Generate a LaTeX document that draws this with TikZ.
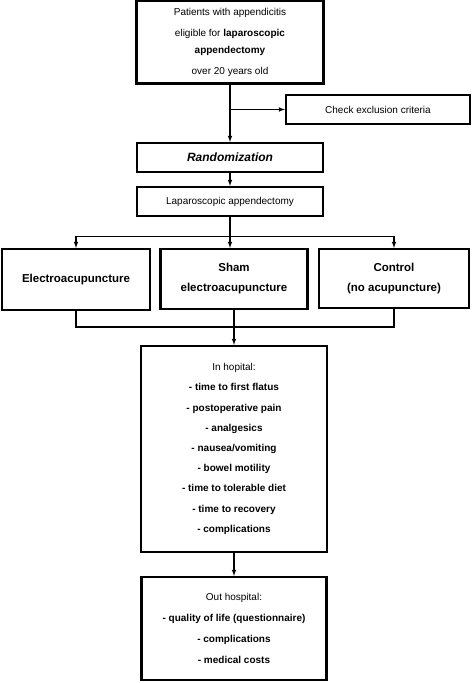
\documentclass[tikz,border=0pt]{standalone}
\usepackage{fontspec}
\setmainfont{Liberation Sans}
\begin{document}
\begin{tikzpicture}[>=latex, x=1pt, y=1pt,
		box/.style={draw, line width=2.2pt, align=center, inner sep=0pt},
		flow/.style={->, line width=1.1pt}]
	\useasboundingbox (0,0) rectangle (473,683);
	%%% Boxes
	\node[box, minimum width=187, minimum height=83, font=\fontsize{10}{17}\selectfont] (pat) at (230,641)
		{Patients with appendicitis\\[4pt]
		 eligible for \textbf{laparoscopic}\\
		 \textbf{appendectomy}\\[4pt]
		 over 20 years old};
	\node[box, minimum width=184, minimum height=29, font=\fontsize{10}{12}\selectfont] (check) at (378,573.5) {Check exclusion criteria};
	\node[box, minimum width=186, minimum height=29, font=\fontsize{12}{14}\selectfont\bfseries\itshape] (rand) at (230,525.5) {Randomization};
	\node[box, minimum width=186, minimum height=29, font=\fontsize{10}{12}\selectfont] (lap) at (230,481.5) {Laparoscopic appendectomy};
	%%% Gruppi
	\node[box, minimum width=148, minimum height=61, font=\fontsize{11.5}{20}\selectfont\bfseries] (ea) at (76,403.5) {Electroacupuncture};
	\node[box, minimum width=147, minimum height=60, font=\fontsize{11.5}{20}\selectfont\bfseries] (sham) at (234,404) {Sham\\electroacupuncture};
	\node[box, minimum width=150, minimum height=59, font=\fontsize{11.5}{20}\selectfont\bfseries] (ctrl) at (394,404.5) {Control\\(no acupuncture)};
	%%% Esiti
	\node[box, minimum width=186, minimum height=206, font=\fontsize{10}{20.2}\selectfont] (inh) at (234,234)
		{In hopital:\\
		 \textbf{- time to first flatus}\\
		 \textbf{- postoperative pain}\\
		 \textbf{- analgesics}\\
		 \textbf{- nausea/vomiting}\\
		 \textbf{- bowel motility}\\
		 \textbf{- time to tolerable diet}\\
		 \textbf{- time to recovery}\\
		 \textbf{- complications}};
	\node[box, minimum width=185, minimum height=103, font=\fontsize{10}{21}\selectfont] (outh) at (234,54.5)
		{Out hospital:\\
		 \textbf{- quality of life (questionnaire)}\\
		 \textbf{- complications}\\
		 \textbf{- medical costs}};
	%%% Frecce
	\draw[flow] (pat.south) -- (rand.north);
	\draw[flow] (pat.south |- check.west) -- (check.west);
	\draw[flow] (rand.south) -- (lap.north);
	\draw[line width=1.1pt] (lap.south) -- ++(0,-19) coordinate (split);
	\draw[flow] (split) -| (ea.north);
	\draw[flow] (split) -| (ctrl.north);
	\draw[flow] (split) -- (split |- sham.north);
	%%% Unione
	\coordinate (merge) at (sham.south |- 0,356);
	\draw[line width=1.1pt] (ea.south) |- (merge);
	\draw[line width=1.1pt] (ctrl.south) |- (merge);
	\draw[flow] (sham.south) -- (inh.north);
	\draw[flow] (inh.south) -- (outh.north);
\end{tikzpicture}
\end{document}
